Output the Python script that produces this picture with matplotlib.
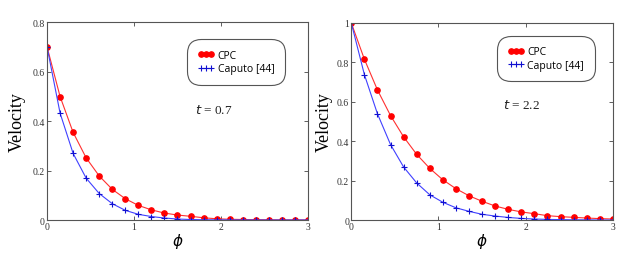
import matplotlib
matplotlib.use("Agg")
import matplotlib.pyplot as plt

phi = [0.0, 0.15, 0.3, 0.45, 0.6, 0.75, 0.9, 1.05, 1.2, 1.35, 1.5, 1.65, 1.8,
       1.95, 2.1, 2.25, 2.4, 2.55, 2.7, 2.85, 3.0]

cpc_07 = [0.700, 0.499, 0.354, 0.251, 0.178, 0.124, 0.086, 0.059, 0.041, 0.028,
          0.020, 0.015, 0.009, 0.005, 0.003, 0.002, 0.0015, 0.001, 0.0007, 0.0005, 0.0003]
cap_07 = [0.700, 0.432, 0.269, 0.169, 0.107, 0.066, 0.039, 0.023, 0.014, 0.008,
          0.004, 0.002, 0.001, 0.0007, 0.0004, 0.0002, 0.0001, 0.0, 0.0, 0.0, 0.0]

cpc_22 = [1.000, 0.816, 0.660, 0.530, 0.422, 0.333, 0.262, 0.204, 0.159, 0.123,
          0.095, 0.071, 0.054, 0.041, 0.032, 0.022, 0.017, 0.0135, 0.010, 0.007, 0.005]
cap_22 = [1.000, 0.738, 0.539, 0.383, 0.269, 0.188, 0.128, 0.090, 0.062, 0.044,
          0.029, 0.020, 0.013, 0.008, 0.005, 0.003, 0.002, 0.001, 0.001, 0.0, 0.0]

panels = [
    dict(cpc=cpc_07, cap=cap_07, ymax=0.8, yticks=[0, 0.2, 0.4, 0.6, 0.8],
         yticklabels=["0", "0.2", "0.4", "0.6", "0.8"], t="0.7",
         rect=[0.0737, 0.1333, 0.409, 0.7765], tpos=(0.567, 0.56),
         leg=(0.548, 0.90), ylab_x=-0.08),
    dict(cpc=cpc_22, cap=cap_22, ymax=1.0, yticks=[0, 0.2, 0.4, 0.6, 0.8, 1.0],
         yticklabels=["0", "0.2", "0.4", "0.6", "0.8", "1"], t="2.2",
         rect=[0.5506, 0.1333, 0.410, 0.773], tpos=(0.58, 0.584),
         leg=(0.568, 0.92), ylab_x=-0.072),
]

xticks = [0, 1, 2, 3]
SERIF = "Liberation Serif"
fig = plt.figure(figsize=(6.38, 2.55), dpi=100)

for p in panels:
    ax = fig.add_axes(p["rect"])
    l1, = ax.plot(phi, p["cpc"], color="#ff3030", lw=0.8, marker="o", ms=3.8,
                  mfc="#ff0000", mec="#ff0000", label="CPC")
    l2, = ax.plot(phi, p["cap"], color="#4040ff", lw=0.8, marker="+", ms=4.5,
                  mew=0.8, mec="#1010d0", label="Caputo [44]")
    ax.set_xlim(0, 3)
    ax.set_ylim(0, p["ymax"])
    ax.set_xticks(xticks)
    ax.set_xticklabels([str(v) for v in xticks], family=SERIF, fontsize=7, color="#333333")
    ax.set_yticks(p["yticks"])
    ax.set_yticklabels(p["yticklabels"], family=SERIF, fontsize=7, color="#333333")
    ax.tick_params(direction="in", top=True, right=True, length=3, width=0.6,
                   color="#444444", pad=1.5)
    for s in ax.spines.values():
        s.set_color("#555555")
        s.set_linewidth(0.8)
    ax.set_ylabel("Velocity", family=SERIF, fontsize=13)
    ax.yaxis.set_label_coords(p["ylab_x"], 0.5)
    ax.set_xlabel(r"$\phi$", fontsize=11, labelpad=0)
    ax.text(p["tpos"][0], p["tpos"][1], r"$t$ = " + p["t"], transform=ax.transAxes,
            family=SERIF, fontsize=9.5, color="#222222", va="center")
    leg = ax.legend(handles=[l1, l2], loc="upper left", bbox_to_anchor=p["leg"],
                    numpoints=3, handlelength=1.6, handletextpad=0.3,
                    prop=dict(family="Open Sans", size=7.5), fancybox=True, framealpha=1,
                    edgecolor="#555555", borderpad=0.75, labelspacing=0.25,
                    borderaxespad=0)
    leg.get_frame().set_linewidth(0.8)
    leg.get_frame().set_boxstyle("round", pad=0.25, rounding_size=1.3)

fig.savefig("out.png", dpi=100)
